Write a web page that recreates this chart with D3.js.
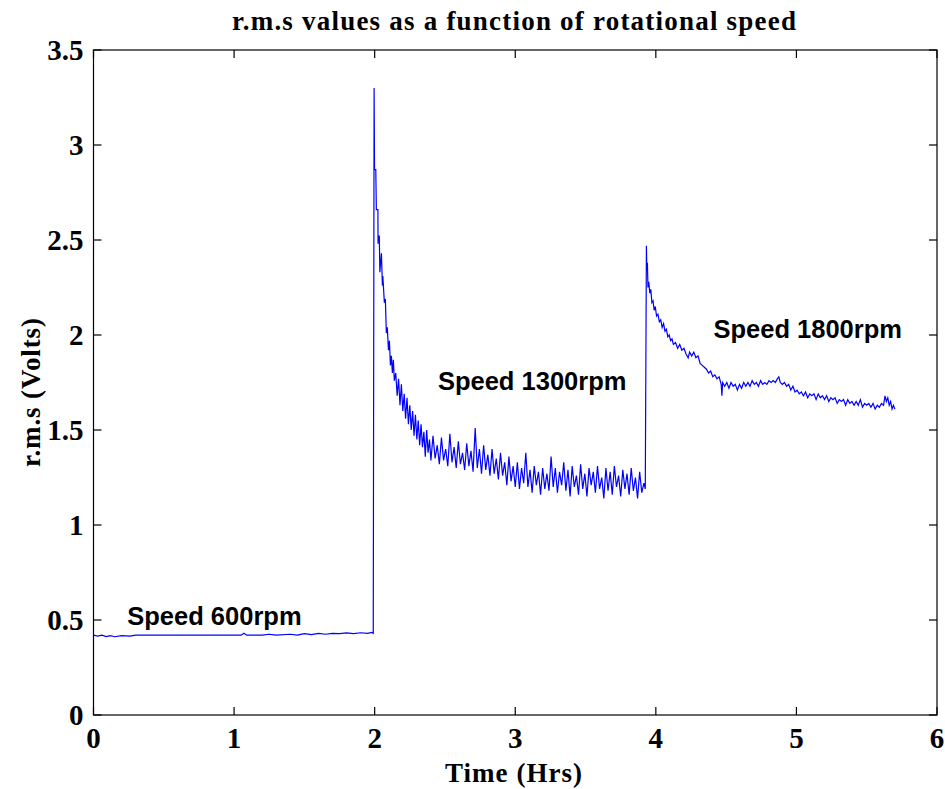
<!DOCTYPE html>
<html lang="en">
<head>
<meta charset="UTF-8">
<title>r.m.s values as a function of rotational speed</title>
<script src="https://cdn.jsdelivr.net/npm/d3@7"></script>
<style>
    body { margin: 0; background: #fff; }
    svg { display: block; }
    .tick-label { font-family: "Liberation Serif", "Times New Roman", serif; font-weight: bold; font-size: 29px; }
    .axis-title { font-family: "Liberation Serif", "Times New Roman", serif; font-weight: bold; font-size: 27px; }
    .note { font-family: "Liberation Sans", Arial, sans-serif; font-weight: bold; font-size: 25.5px; }
</style>
</head>
<body>
<svg width="945" height="789"></svg>
<script>
    // x ticks / y ticks
    const xTicks = [0, 1, 2, 3, 4, 5, 6];
    const yTicks = [0, 0.5, 1, 1.5, 2, 2.5, 3, 3.5];

    // 600 rpm stage  [time (hrs), rms (V)]
    const speed600 = [
        [0.000, 0.420], [0.030, 0.415], [0.060, 0.420], [0.090, 0.413], [0.120, 0.418],
        [0.150, 0.412], [0.200, 0.418], [0.260, 0.415], [0.300, 0.420], [0.400, 0.420],
        [0.600, 0.420], [0.800, 0.420], [1.000, 0.420], [1.050, 0.420], [1.070, 0.430],
        [1.090, 0.420], [1.200, 0.420], [1.250, 0.425], [1.300, 0.420], [1.400, 0.425],
        [1.450, 0.420], [1.500, 0.428], [1.550, 0.423], [1.600, 0.430], [1.650, 0.425],
        [1.700, 0.430], [1.750, 0.428], [1.800, 0.432], [1.850, 0.428], [1.900, 0.433],
        [1.950, 0.430], [1.980, 0.435], [1.990, 0.430]
    ];

    // 1300 rpm stage
    const speed1300 = [
        [1.996, 3.30], [1.999, 2.87], [2.008, 2.87], [2.012, 2.66], [2.023, 2.66],
        [2.024, 2.48], [2.026, 2.52], [2.033, 2.52], [2.037, 2.33], [2.048, 2.43],
        [2.055, 2.26], [2.058, 2.31], [2.069, 2.17], [2.076, 2.19], [2.083, 2.01],
        [2.090, 2.04], [2.098, 1.92], [2.105, 1.97], [2.112, 1.84], [2.119, 1.89],
        [2.126, 1.80], [2.133, 1.87], [2.140, 1.76], [2.150, 1.80], [2.160, 1.68],
        [2.170, 1.77], [2.180, 1.63], [2.190, 1.74], [2.200, 1.60], [2.210, 1.69],
        [2.220, 1.56], [2.230, 1.67], [2.240, 1.53], [2.250, 1.63], [2.260, 1.50],
        [2.270, 1.60], [2.280, 1.47], [2.290, 1.58], [2.300, 1.45], [2.310, 1.55],
        [2.320, 1.42], [2.330, 1.53], [2.340, 1.41], [2.350, 1.49], [2.360, 1.36],
        [2.370, 1.50], [2.380, 1.38], [2.390, 1.45], [2.400, 1.34], [2.415, 1.47],
        [2.430, 1.35], [2.445, 1.42], [2.460, 1.32], [2.475, 1.46], [2.490, 1.34],
        [2.505, 1.40], [2.520, 1.31], [2.535, 1.48], [2.550, 1.33], [2.565, 1.41],
        [2.580, 1.30], [2.595, 1.44], [2.610, 1.32], [2.625, 1.38], [2.640, 1.29],
        [2.655, 1.43], [2.670, 1.31], [2.685, 1.39], [2.700, 1.28], [2.715, 1.51],
        [2.730, 1.30], [2.745, 1.40], [2.760, 1.27], [2.775, 1.42], [2.790, 1.29],
        [2.805, 1.37], [2.820, 1.26], [2.835, 1.40], [2.850, 1.27], [2.865, 1.35],
        [2.880, 1.24], [2.895, 1.38], [2.910, 1.26], [2.925, 1.33], [2.940, 1.21],
        [2.955, 1.36], [2.970, 1.23], [2.985, 1.31], [3.000, 1.20], [3.015, 1.33],
        [3.030, 1.19], [3.045, 1.30], [3.060, 1.22], [3.075, 1.38], [3.090, 1.20],
        [3.105, 1.29], [3.120, 1.17], [3.135, 1.31], [3.150, 1.21], [3.165, 1.28],
        [3.180, 1.16], [3.195, 1.30], [3.210, 1.19], [3.225, 1.27], [3.240, 1.18],
        [3.255, 1.36], [3.270, 1.20], [3.285, 1.30], [3.300, 1.17], [3.315, 1.28],
        [3.330, 1.21], [3.345, 1.33], [3.360, 1.18], [3.375, 1.29], [3.390, 1.15],
        [3.405, 1.31], [3.420, 1.20], [3.435, 1.26], [3.450, 1.16], [3.465, 1.32],
        [3.480, 1.19], [3.495, 1.27], [3.510, 1.15], [3.525, 1.30], [3.540, 1.21],
        [3.555, 1.28], [3.570, 1.17], [3.585, 1.31], [3.600, 1.19], [3.615, 1.25],
        [3.630, 1.14], [3.645, 1.30], [3.660, 1.18], [3.675, 1.28], [3.690, 1.16],
        [3.705, 1.31], [3.720, 1.20], [3.735, 1.26], [3.750, 1.15], [3.765, 1.29],
        [3.780, 1.19], [3.795, 1.27], [3.810, 1.16], [3.825, 1.30], [3.840, 1.18],
        [3.855, 1.25], [3.870, 1.14], [3.885, 1.28], [3.900, 1.17], [3.915, 1.22],
        [3.925, 1.19]
    ];

    // 1800 rpm stage
    const speed1800 = [
        [3.933, 2.47], [3.936, 2.34], [3.940, 2.38], [3.944, 2.25], [3.950, 2.28],
        [3.957, 2.22], [3.964, 2.24], [3.972, 2.17], [3.980, 2.18], [3.988, 2.13],
        [3.996, 2.15], [4.005, 2.10], [4.015, 2.11], [4.025, 2.07], [4.035, 2.08],
        [4.045, 2.04], [4.055, 2.06], [4.065, 2.02], [4.075, 2.03], [4.085, 1.99],
        [4.095, 2.00], [4.105, 1.97], [4.115, 1.98], [4.125, 1.95], [4.140, 1.96],
        [4.155, 1.93], [4.170, 1.95], [4.185, 1.92], [4.200, 1.93], [4.215, 1.90],
        [4.230, 1.88], [4.240, 1.91], [4.255, 1.89], [4.270, 1.91], [4.285, 1.88],
        [4.300, 1.89], [4.315, 1.85], [4.330, 1.84], [4.345, 1.83], [4.360, 1.82],
        [4.375, 1.80], [4.390, 1.81], [4.405, 1.78], [4.420, 1.79], [4.435, 1.77],
        [4.450, 1.78], [4.465, 1.74], [4.470, 1.68], [4.475, 1.75], [4.490, 1.73],
        [4.505, 1.75], [4.520, 1.72], [4.535, 1.75], [4.550, 1.73], [4.565, 1.74],
        [4.580, 1.71], [4.595, 1.74], [4.610, 1.72], [4.625, 1.75], [4.640, 1.73],
        [4.655, 1.75], [4.670, 1.73], [4.685, 1.76], [4.700, 1.74], [4.715, 1.75],
        [4.730, 1.73], [4.745, 1.76], [4.760, 1.74], [4.775, 1.75], [4.790, 1.74],
        [4.805, 1.76], [4.820, 1.75], [4.835, 1.76], [4.850, 1.75], [4.865, 1.77],
        [4.875, 1.78], [4.885, 1.75], [4.900, 1.74], [4.915, 1.75], [4.930, 1.73],
        [4.945, 1.74], [4.960, 1.71], [4.975, 1.73], [4.990, 1.70], [5.005, 1.71],
        [5.020, 1.69], [5.035, 1.70], [5.050, 1.68], [5.065, 1.70], [5.080, 1.67],
        [5.095, 1.69], [5.110, 1.68], [5.125, 1.69], [5.140, 1.66], [5.155, 1.69],
        [5.170, 1.67], [5.185, 1.68], [5.200, 1.66], [5.215, 1.68], [5.230, 1.65],
        [5.245, 1.67], [5.260, 1.66], [5.275, 1.67], [5.290, 1.64], [5.305, 1.66],
        [5.320, 1.65], [5.335, 1.66], [5.350, 1.63], [5.365, 1.66], [5.380, 1.64],
        [5.395, 1.65], [5.410, 1.63], [5.425, 1.65], [5.440, 1.63], [5.455, 1.66],
        [5.470, 1.62], [5.485, 1.64], [5.500, 1.63], [5.515, 1.64], [5.530, 1.62],
        [5.545, 1.64], [5.560, 1.61], [5.575, 1.63], [5.590, 1.62], [5.605, 1.64],
        [5.620, 1.63], [5.630, 1.68], [5.640, 1.65], [5.650, 1.67], [5.660, 1.63],
        [5.670, 1.65], [5.680, 1.61], [5.690, 1.63], [5.700, 1.61]
    ];

    // text annotations on the plot: [label, time, value]
    const notes = [
        ["Speed 600rpm", 0.24, 0.475],
        ["Speed 1300rpm", 2.45, 1.71],
        ["Speed 1800rpm", 4.41, 1.985]
    ];

    const svg = d3.select("svg");
    const margin = {left: 93.5, right: 8, top: 50, bottom: 74};
    const W = 945, H = 789;

    const x = d3.scaleLinear().domain([0, 6]).range([margin.left, W - margin.right]);
    const y = d3.scaleLinear().domain([0, 3.5]).range([H - margin.bottom, margin.top]);

    // the trace
    const series = speed600.concat(speed1300, speed1800);
    const line = d3.line().x(d => x(d[0])).y(d => y(d[1]));
    svg.append("path")
        .datum(series)
        .attr("d", line)
        .attr("fill", "none")
        .attr("stroke", "#0000ff")
        .attr("stroke-width", 1.2)
        .attr("stroke-linejoin", "miter");

    // box + inward ticks on all four sides (matlab style)
    const tl = 8;
    const axG = svg.append("g").attr("stroke", "#000").attr("stroke-width", 1.2);
    axG.append("rect")
        .attr("x", x(0)).attr("y", y(3.5))
        .attr("width", x(6) - x(0)).attr("height", y(0) - y(3.5))
        .attr("fill", "none");
    xTicks.forEach(t => {
        axG.append("line").attr("x1", x(t)).attr("x2", x(t)).attr("y1", y(0)).attr("y2", y(0) - tl);
        axG.append("line").attr("x1", x(t)).attr("x2", x(t)).attr("y1", y(3.5)).attr("y2", y(3.5) + tl);
    });
    yTicks.forEach(v => {
        axG.append("line").attr("x1", x(0)).attr("x2", x(0) + tl).attr("y1", y(v)).attr("y2", y(v));
        axG.append("line").attr("x1", x(6)).attr("x2", x(6) - tl).attr("y1", y(v)).attr("y2", y(v));
    });

    // tick labels
    svg.selectAll(".xl").data(xTicks).enter().append("text")
        .attr("class", "tick-label")
        .attr("x", d => x(d)).attr("y", y(0) + 33)
        .attr("text-anchor", "middle")
        .text(d => d);
    svg.selectAll(".yl").data(yTicks).enter().append("text")
        .attr("class", "tick-label")
        .attr("x", x(0) - 10).attr("y", d => y(d) + 10)
        .attr("text-anchor", "end")
        .text(d => d);

    // titles
    svg.append("text")
        .attr("class", "axis-title")
        .attr("x", 232).attr("y", 30)
        .style("font-size", "27px")
        .attr("textLength", 564)
        .attr("lengthAdjust", "spacing")
        .text("r.m.s values as a function of rotational speed");
    svg.append("text")
        .attr("class", "axis-title")
        .attr("x", 445).attr("y", 782)
        .attr("textLength", 137)
        .attr("lengthAdjust", "spacing")
        .text("Time (Hrs)");
    svg.append("text")
        .attr("class", "axis-title")
        .attr("transform", "translate(40,467) rotate(-90)")
        .attr("textLength", 149)
        .attr("lengthAdjust", "spacing")
        .text("r.m.s (Volts)");

    // speed notes
    svg.selectAll(".note").data(notes).enter().append("text")
        .attr("class", "note")
        .attr("x", d => x(d[1])).attr("y", d => y(d[2]))
        .text(d => d[0]);
</script>
</body>
</html>
